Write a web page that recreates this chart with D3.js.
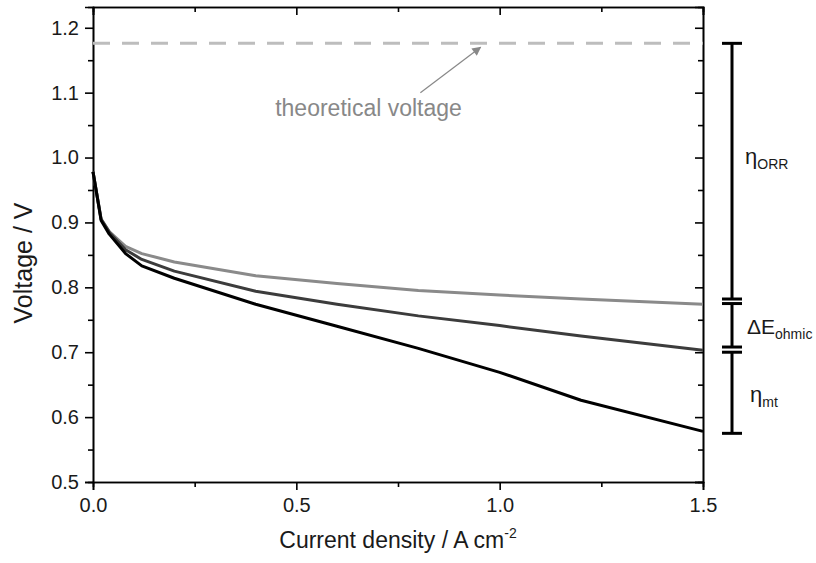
<!DOCTYPE html>
<html>
<head>
<meta charset="utf-8">
<script src="https://cdn.jsdelivr.net/npm/d3@7"></script>
<style>
  body { margin: 0; background: #fff; }
  svg { font-family: "Liberation Sans", Arial, sans-serif; }
</style>
</head>
<body>
<div id="chart"></div>
<script>
// current density (A cm-2) where the curves were sampled
var current = [0, 0.02, 0.04, 0.08, 0.12, 0.2, 0.4, 0.6, 0.8, 1.0, 1.2, 1.5];
// three polarisation curves, V
var vMassTransport = [0.978, 0.903, 0.882, 0.852, 0.833, 0.814, 0.774, 0.740, 0.706, 0.669, 0.626, 0.578];
var vOhmic = [0.978, 0.905, 0.885, 0.858, 0.843, 0.825, 0.794, 0.774, 0.756, 0.741, 0.725, 0.703];
var vKinetic = [0.978, 0.905, 0.886, 0.863, 0.852, 0.839, 0.818, 0.806, 0.795, 0.788, 0.782, 0.774];
var seriesColors = ["#8a8a8a", "#3c3c3c", "#000000"];

var theoreticalV = 1.176;

// loss brackets on the right: [top, bottom] in V
var bracketNames = ["ORR", "ohmic", "mt"];
var bracketTop = [1.176, 0.775, 0.700];
var bracketBottom = [0.782, 0.708, 0.575];

var xTicks = [0, 0.5, 1.0, 1.5];
var xMinor = [0.25, 0.75, 1.25];
var yTicks = [0.5, 0.6, 0.7, 0.8, 0.9, 1.0, 1.1, 1.2];
var yMinor = [0.55, 0.65, 0.75, 0.85, 0.95, 1.05, 1.15];

function draw() {
    var width = 816, height = 563;
    var mLeft = 93, mRight = 703, mTop = 7, mBottom = 482;

    var svg = d3.select("#chart").append("svg")
        .attr("width", width)
        .attr("height", height);

    var x = d3.scaleLinear().domain([0, 1.5]).range([mLeft, mRight]);
    var y = d3.scaleLinear().domain([0.5, 1.232]).range([mBottom, mTop]);

    function styleAxis(g) {
        g.select(".domain").attr("stroke", "#000").attr("stroke-width", 1.6);
        g.selectAll(".tick line").attr("stroke", "#000").attr("stroke-width", 1.6);
        g.selectAll("text").attr("font-size", "20px").attr("fill", "#1a1a1a")
            .attr("font-family", "'Liberation Sans', Arial, sans-serif");
    }

    // bottom axis
    svg.append("g").attr("transform", "translate(0," + mBottom + ")")
        .call(d3.axisBottom(x).tickValues(xTicks).tickSize(8).tickPadding(8).tickFormat(d3.format(".1f")))
        .call(styleAxis);
    svg.append("g").attr("transform", "translate(0," + mBottom + ")")
        .call(d3.axisBottom(x).tickValues(xMinor).tickSize(5).tickFormat(""))
        .call(styleAxis);

    // left axis
    svg.append("g").attr("transform", "translate(" + mLeft + ",0)")
        .call(d3.axisLeft(y).tickValues(yTicks).tickSize(8).tickPadding(6).tickFormat(d3.format(".1f")))
        .call(styleAxis);
    svg.append("g").attr("transform", "translate(" + mLeft + ",0)")
        .call(d3.axisLeft(y).tickValues(yMinor).tickSize(5).tickFormat(""))
        .call(styleAxis);

    // top & right, ticks pointing in
    svg.append("g").attr("transform", "translate(0," + mTop + ")")
        .call(d3.axisTop(x).tickValues(xTicks).tickSize(-8).tickFormat(""))
        .call(styleAxis);
    svg.append("g").attr("transform", "translate(0," + mTop + ")")
        .call(d3.axisTop(x).tickValues(xMinor).tickSize(-5).tickFormat(""))
        .call(styleAxis);
    svg.append("g").attr("transform", "translate(" + mRight + ",0)")
        .call(d3.axisRight(y).tickValues(yTicks).tickSize(-8).tickFormat(""))
        .call(styleAxis);
    svg.append("g").attr("transform", "translate(" + mRight + ",0)")
        .call(d3.axisRight(y).tickValues(yMinor).tickSize(-5).tickFormat(""))
        .call(styleAxis);

    // theoretical voltage line
    svg.append("line")
        .attr("x1", x(0)).attr("x2", x(1.5))
        .attr("y1", y(theoreticalV)).attr("y2", y(theoreticalV))
        .attr("stroke", "#bdbdbd")
        .attr("stroke-width", 3)
        .attr("stroke-dasharray", "17,12");

    // arrow + label
    svg.append("defs").append("marker")
        .attr("id", "head")
        .attr("viewBox", "0 0 10 10")
        .attr("refX", 9).attr("refY", 5)
        .attr("markerWidth", 11).attr("markerHeight", 9)
        .attr("markerUnits", "userSpaceOnUse")
        .attr("orient", "auto")
        .append("path").attr("d", "M0,0 L10,5 L0,10 Z").attr("fill", "#888");

    svg.append("line")
        .attr("x1", x(0.805)).attr("y1", y(1.1))
        .attr("x2", x(0.953)).attr("y2", y(theoreticalV) + 4)
        .attr("stroke", "#888")
        .attr("stroke-width", 1.2)
        .attr("marker-end", "url(#head)");

    svg.append("text")
        .attr("x", x(0.448)).attr("y", 116)
        .attr("font-size", "23px")
        .attr("fill", "#888")
        .text("theoretical voltage");

    // curves
    var line = d3.line()
        .x(function(d, i) { return x(current[i]); })
        .y(function(d) { return y(d); });

    [vKinetic, vOhmic, vMassTransport].forEach(function(s, k) {
        svg.append("path")
            .datum(s)
            .attr("d", line)
            .attr("fill", "none")
            .attr("stroke", seriesColors[k])
            .attr("stroke-width", 3)
            .attr("stroke-linejoin", "round");
    });

    // brackets on the right
    var bx = 732, capW = 10;
    bracketNames.forEach(function(n, i) {
        var g = svg.append("g").attr("stroke", "#000").attr("stroke-width", 3);
        g.append("line").attr("x1", bx).attr("x2", bx)
            .attr("y1", y(bracketTop[i])).attr("y2", y(bracketBottom[i]));
        g.append("line").attr("x1", bx - capW).attr("x2", bx + capW)
            .attr("y1", y(bracketTop[i])).attr("y2", y(bracketTop[i]));
        g.append("line").attr("x1", bx - capW).attr("x2", bx + capW)
            .attr("y1", y(bracketBottom[i])).attr("y2", y(bracketBottom[i]));
    });

    function lossLabel(main, sub, lx, ly, mainSize) {
        var t = svg.append("text").attr("x", lx).attr("y", ly).attr("fill", "#1a1a1a");
        t.append("tspan").attr("font-size", mainSize).text(main);
        t.append("tspan").attr("font-size", "14px").attr("dy", 5).text(sub);
    }
    lossLabel("\u03b7", "ORR", 745, 164, "22px");
    lossLabel("\u0394E", "ohmic", 747, 334, "21px");
    lossLabel("\u03b7", "mt", 750, 402, "22px");

    // axis titles
    var xt = svg.append("text")
        .attr("x", (mLeft + mRight) / 2).attr("y", 548)
        .attr("text-anchor", "middle")
        .attr("font-size", "23px")
        .attr("fill", "#1a1a1a");
    xt.append("tspan").text("Current density / A cm");
    xt.append("tspan").attr("font-size", "14px").attr("dy", -10).text("-2");

    svg.append("text")
        .attr("transform", "translate(32,263) rotate(-90)")
        .attr("text-anchor", "middle")
        .attr("font-size", "25px")
        .attr("fill", "#1a1a1a")
        .text("Voltage / V");
}
draw();
</script>
</body>
</html>
